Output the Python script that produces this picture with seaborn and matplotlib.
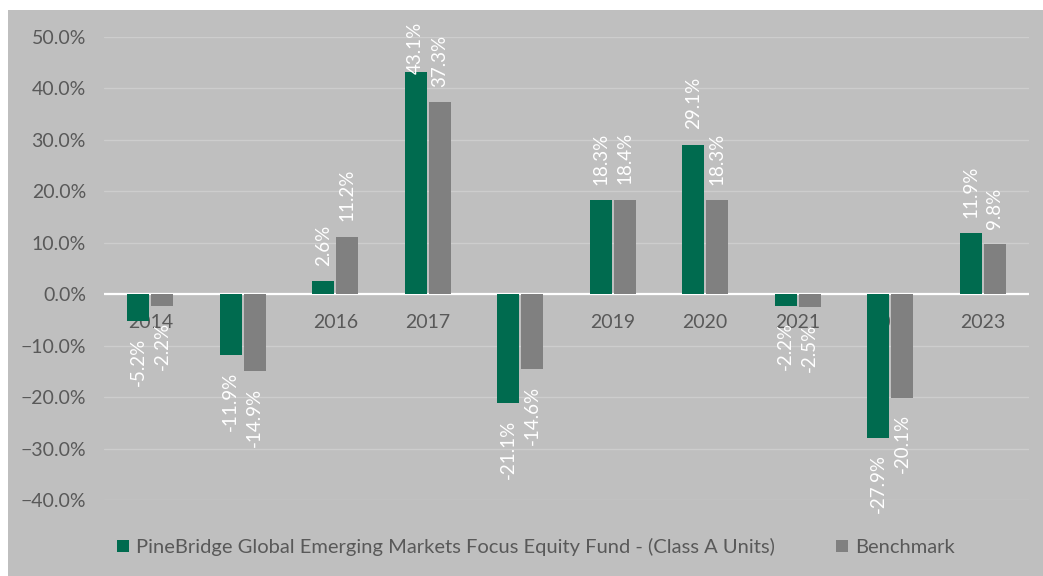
import pandas as pd
import matplotlib.pyplot as plt
import seaborn as sns
from matplotlib.patches import Rectangle
from matplotlib.ticker import PercentFormatter

# Calendar-year returns (%)
years = ['2014', '2015', '2016', '2017', '2018', '2019', '2020', '2021', '2022', '2023']
fund = [-5.2, -11.9, 2.6, 43.1, -21.1, 18.3, 29.1, -2.2, -27.9, 11.9]
benchmark = [-2.2, -14.9, 11.2, 37.3, -14.6, 18.4, 18.3, -2.5, -20.1, 9.8]
series_names = ['PineBridge Global Emerging Markets Focus Equity Fund - (Class A Units)', 'Benchmark']

df = pd.DataFrame({'Year': years * 2,
                   'Return': fund + benchmark,
                   'Series': [series_names[0]] * len(years) + [series_names[1]] * len(years)})

bg = '#bfbfbf'
text_col = '#595959'
palette = {series_names[0]: '#006b4f', series_names[1]: '#808080'}

sns.set_theme(style='white')
plt.rcParams['font.family'] = ['Lato', 'DejaVu Sans']

fig = plt.figure(figsize=(10.43, 5.76), dpi=100)
fig.patch.set_facecolor('white')
fig.patches.append(Rectangle((8 / 1043, 0), 1, 1 - 10 / 576, transform=fig.transFigure,
                             facecolor=bg, edgecolor='none', zorder=-10))

ax = fig.add_axes([104 / 1043, 1 - 500 / 576, (1029 - 104) / 1043, (500 - 37) / 576])
ax.set_facecolor('none')

sns.barplot(data=df, x='Year', y='Return', hue='Series', palette=palette,
            width=0.52, gap=0.1, saturation=1, linewidth=0, ax=ax)

ax.set_ylim(-40, 50)
ax.set_yticks(range(-40, 51, 10))
ax.yaxis.set_major_formatter(PercentFormatter(decimals=1))
ax.set_xlim(-0.5, len(years) - 0.5)
ax.set_axisbelow(True)
ax.grid(axis='y', color='#cdcdcd', linewidth=1)
ax.axhline(0, color='white', linewidth=1.6, zorder=0.8)

for s in ax.spines.values():
    s.set_visible(False)
ax.spines['bottom'].set_position(('data', 0))
ax.tick_params(axis='x', length=0, pad=14, labelsize=14, labelcolor=text_col)
ax.tick_params(axis='y', length=0, pad=13, labelsize=14, labelcolor=text_col)
ax.set_xlabel('')
ax.set_ylabel('')

# data labels, rotated, outside end
for cont, vals in zip(ax.containers, [fund, benchmark]):
    for bar, v in zip(cont, vals):
        x = bar.get_x() + bar.get_width() / 2
        if v >= 0:
            off = 11 if v < 40 else -1
            ax.annotate(f'{v:.1f}%', (x, v), xytext=(0, off), textcoords='offset points',
                        rotation=90, ha='center', va='bottom', color='white', fontsize=13.5)
        else:
            ax.annotate(f'{v:.1f}%', (x, v), xytext=(0, -12), textcoords='offset points',
                        rotation=90, ha='center', va='top', color='white', fontsize=13.5)

ax.legend_.remove()
handles, labels = ax.get_legend_handles_labels()
fig.legend(handles, labels, loc='center', bbox_to_anchor=(536 / 1043, 1 - 547 / 576),
           ncol=2, frameon=False, fontsize=14.5, labelcolor=text_col,
           handlelength=0.6, handleheight=0.6, handletextpad=0.35, columnspacing=3.0)

fig.savefig('out.png', dpi=100)
